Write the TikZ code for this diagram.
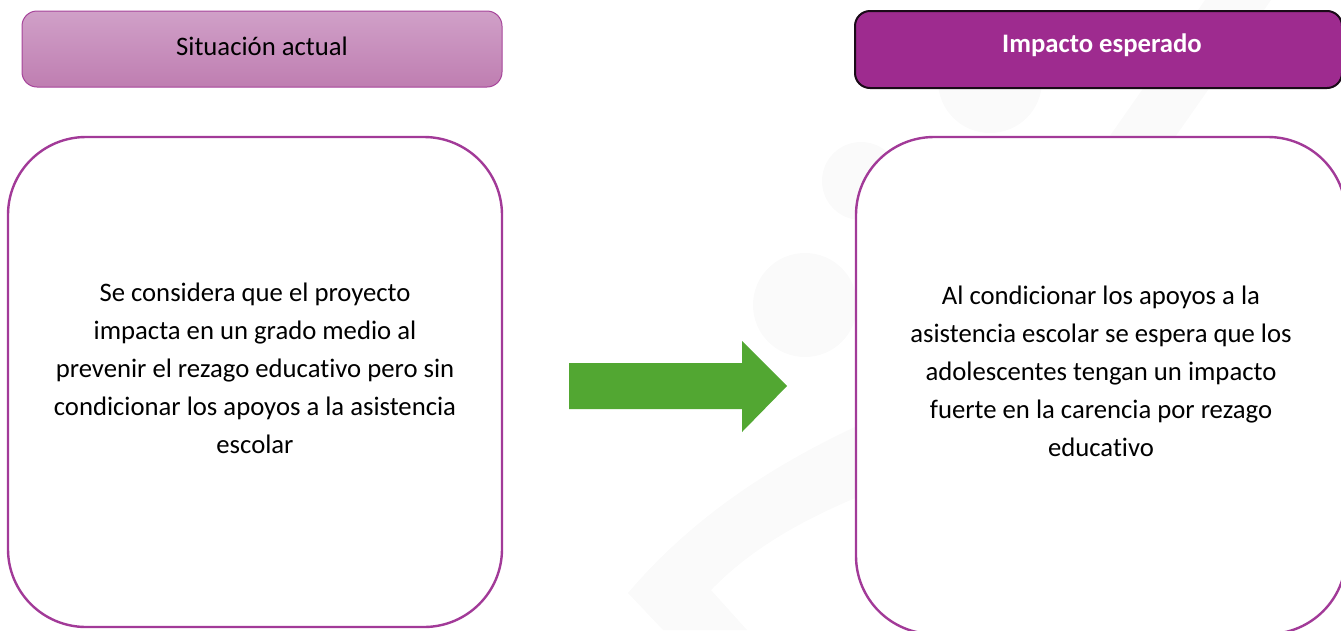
\documentclass[tikz,border=0pt]{standalone}
\usepackage{fontspec}
\setmainfont{Carlito}[Ligatures={NoCommon}]
\definecolor{hdrtop}{HTML}{D0A0C8}
\definecolor{hdrbot}{HTML}{BF7EB1}
\definecolor{hdrline}{HTML}{A6449A}
\definecolor{boxline}{HTML}{A23A98}
\definecolor{impfill}{HTML}{9E2B8F}
\definecolor{impline}{HTML}{1A0A18}
\definecolor{arrowgreen}{HTML}{52A732}
\definecolor{wm}{HTML}{FAFAFA}
\tikzset{
  mainbox/.style={draw=boxline, line width=2.4pt, fill=white, rounded corners=78pt, inner sep=0pt},
  hdrsoft/.style={draw=hdrline, line width=1pt, top color=hdrtop, bottom color=hdrbot, rounded corners=15pt, inner sep=0pt},
  hdrstrong/.style={draw=impline, line width=2pt, fill=impfill, rounded corners=15pt, inner sep=0pt},
  hdrtext/.style={inner sep=0pt, anchor=base, font=\fontsize{26.7}{30}\selectfont},
  bodytext/.style={align=center, inner sep=0pt, font=\fontsize{26.7}{37.8}\selectfont},
}
\begin{document}
\begin{tikzpicture}[x=1pt,y=-1pt]
\useasboundingbox (0,0) rectangle (1341,630);
\clip (0,0) rectangle (1341,630);
% faint watermark
\fill[wm] (990,81) circle (52);
\fill[wm] (861,181) circle (39);
\fill[wm] (805,305) circle (52);
\fill[wm] (1107,140) -- (1173,140) -- (1271,0) -- (1205,0) -- cycle;
\fill[wm] (663,630) -- (628,593) .. controls (690,520) and (770,465) .. (870,420)
  -- (870,492) .. controls (800,520) and (750,550) .. (711,590) -- (747,630) -- cycle;
% boxes
\node[mainbox, minimum width=494pt, minimum height=490pt] (cur) at (255,382) {};
\node[mainbox, minimum width=490pt, minimum height=497pt] (imp) at (1101,385.5) {};
\node[hdrsoft, minimum width=480pt, minimum height=76pt] (curhdr) at (262,49) {};
\node[hdrstrong, minimum width=487pt, minimum height=77pt] (imphdr) at (1098.5,49.5) {};
\node[hdrtext] (curhdrtext) at (262,55) {Situación actual};
\node[hdrtext, text=white, font=\fontsize{26.7}{30}\selectfont\bfseries] (imphdrtext) at (1102,52) {Impacto esperado};
% arrow
\fill[arrowgreen] (569,363) -- (742,363) -- (742,341) -- (787,386) -- (742,432) -- (742,409) -- (569,409) -- cycle;
% texts
\node[bodytext, anchor=base] (curtext) at (255,453) {Se considera que el proyecto\\impacta en un grado medio al\\prevenir el rezago educativo pero sin\\condicionar los apoyos a la asistencia\\escolar};
\node[bodytext, anchor=base] (imptext) at (1101,456) {Al condicionar los apoyos a la\\asistencia escolar se espera que los\\adolescentes tengan un impacto\\fuerte en la carencia por rezago\\educativo};
\end{tikzpicture}
\end{document}
